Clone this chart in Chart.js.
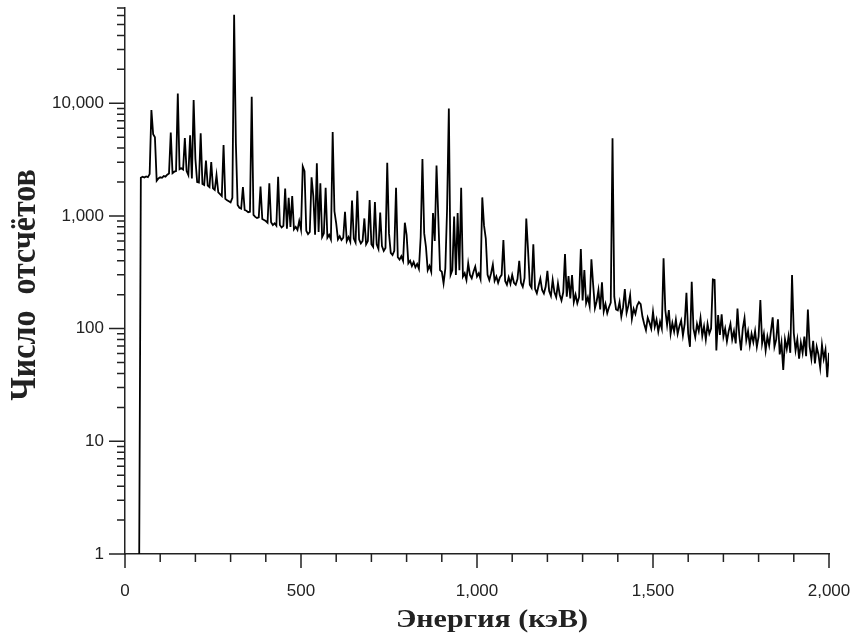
<!DOCTYPE html>
<html>
<head>
<meta charset="utf-8">
<script src="https://cdn.jsdelivr.net/npm/chart.js@4/dist/chart.umd.min.js"></script>
<style>
  html, body { margin: 0; padding: 0; background: #fff; }
  #wrap { width: 854px; height: 639px; position: relative; }
</style>
</head>
<body>
<div id="wrap"><canvas id="spectrum"></canvas></div>
<script>
// channel grid: 5 keV bins starting at 40 keV
var energyStart = 40;
var energyStep = 5;

// counts per bin, one row per 100 keV
var counts = [
    0.5, 2180, 2230, 2190, 2240, 2210, 2350, 8700, 5300, 5000, 2050, 2150,
    2200, 2180, 2260, 2230, 2320, 2380, 5500, 2400, 2470, 2500, 12200, 2600, 2650, 2580, 4900, 2500, 2300, 5200, 2150, 10700,
    3200, 2000, 1980, 5400, 1920, 1880, 3100, 1860, 1800, 3000, 1760, 1700, 2300, 1620, 1560, 1500, 4250, 1420, 1380, 1350,
    1320, 1450, 61000, 4400, 1250, 1180, 1160, 1800, 1130, 1110, 1080, 1090, 11400, 1020, 980, 960, 970, 1820, 940, 920,
    900, 870, 1950, 880, 830, 860, 820, 2230, 830, 790, 815, 1750, 770, 1450, 800, 1500, 760, 800, 750, 900,
    760, 2750, 2500, 740, 690, 720, 2200, 1500, 680, 2930, 720, 1950, 650, 700, 1780, 640, 680, 620, 5560, 1100,
    860, 620, 660, 610, 640, 1090, 600, 650, 590, 1370, 630, 580, 1670, 620, 570, 600, 950, 560, 600, 1384,
    560, 530, 1330, 560, 510, 1070, 540, 490, 520, 2970, 700, 470, 450, 490, 1780, 430, 410, 440, 400, 870,
    680, 380, 400, 360, 390, 350, 375, 340, 650, 3200, 700, 530, 330, 360, 320, 1060, 600, 2800, 985, 330,
    320, 252, 340, 1160, 9000, 300, 330, 990, 300, 1060, 330, 1780, 290, 310, 270, 380, 300, 280, 320, 355,
    290, 310, 275, 1460, 820, 630, 300, 270, 310, 370, 265, 290, 255, 285, 300, 611, 265, 245, 285, 250,
    299, 255, 245, 275, 400, 255, 235, 280, 950, 500, 245, 230, 560, 225, 206, 240, 278, 220, 205, 235,
    326, 215, 195, 270, 210, 190, 252, 200, 178, 210, 458, 192, 292, 185, 299, 172, 200, 168, 190, 508,
    178, 331, 168, 190, 158, 413, 245, 152, 175, 220, 148, 258, 142, 165, 137, 155, 170, 4880, 192, 148,
    145, 172, 128, 155, 224, 138, 160, 198, 122, 150, 135, 160, 172, 165, 128, 110, 97, 125, 113, 100,
    141, 104, 120, 94, 115, 100, 421, 146, 108, 146, 90, 112, 94, 120, 90, 105, 118, 87, 110, 208,
    90, 69, 261, 100, 84, 110, 95, 124, 86, 105, 80, 110, 90, 100, 273, 270, 64, 132, 88, 134,
    85, 100, 77, 95, 110, 80, 95, 74, 151, 88, 64, 100, 124, 79, 95, 71, 90, 76, 95, 69,
    85, 179, 74, 90, 64, 85, 71, 95, 126, 69, 80, 121, 59, 75, 43, 80, 66, 85, 61, 299,
    91, 64, 80, 54, 75, 61, 85, 57, 148, 69, 54, 78, 49, 69, 59, 45, 72, 54, 65, 37,
    61
];

var xMajorTicks = [0, 500, 1000, 1500, 2000];
var xTickLabels = ['0', '500', '1,000', '1,500', '2,000'];
var xMinorStep = 100;
var yMajorTicks = [1, 10, 100, 1000, 10000];
var yTickLabels = ['1', '10', '100', '1,000', '10,000'];
var yMax = 70000;
var xTitle = 'Энергия (кэВ)';
var yTitle = 'Число  отсчётов';

var points = counts.map(function (c, i) {
    return { x: energyStart + energyStep * i, y: c };
});

var xTickValues = [];
for (var e = 0; e <= 2000; e += xMinorStep) xTickValues.push(e);

var yTickValues = [];
for (var d = 1; d <= yMax; d *= 10) {
    for (var m = 1; m <= 9 && d * m <= yMax; m++) yTickValues.push(d * m);
}

// tick marks drawn by hand so major and minor get different lengths
var tickMarks = {
    id: 'tickMarks',
    afterDraw: function (chart) {
        var ctx = chart.ctx, xs = chart.scales.x, ys = chart.scales.y;
        ctx.save();
        ctx.strokeStyle = '#222';
        ctx.lineWidth = 1.5;
        ctx.beginPath();
        xTickValues.forEach(function (v) {
            var px = xs.getPixelForValue(v);
            var len = xMajorTicks.indexOf(v) >= 0 ? 14 : 8;
            ctx.moveTo(px, xs.top);
            ctx.lineTo(px, xs.top + len);
        });
        yTickValues.forEach(function (v) {
            var py = ys.getPixelForValue(v);
            var len = yMajorTicks.indexOf(v) >= 0 ? 16 : 8;
            ctx.moveTo(ys.right, py);
            ctx.lineTo(ys.right - len, py);
        });
        ctx.stroke();
        ctx.restore();
    }
};

// axis titles: wide bold serif, so drawn with a little stretch
var axisTitles = {
    id: 'axisTitles',
    afterDraw: function (chart) {
        var ctx = chart.ctx, area = chart.chartArea;
        ctx.save();
        ctx.fillStyle = '#222';
        ctx.textAlign = 'center';
        ctx.textBaseline = 'alphabetic';

        ctx.save();
        ctx.translate(area.left + (area.right - area.left) / 2 + 15, 627);
        ctx.scale(1.2, 1);
        ctx.font = 'bold 25px "Liberation Serif"';
        ctx.fillText(xTitle, 0, 0);
        ctx.restore();

        ctx.save();
        ctx.translate(35, area.top + (area.bottom - area.top) / 2 + 4);
        ctx.rotate(-Math.PI / 2);
        ctx.scale(1, 1.1);
        ctx.font = 'bold 32px "Liberation Serif"';
        ctx.fillText(yTitle, 0, 0);
        ctx.restore();

        ctx.restore();
    }
};

var tickFont = { family: 'Liberation Sans', size: 17 };

new Chart(document.getElementById('spectrum'), {
    type: 'line',
    data: {
        datasets: [{
            data: points,
            borderColor: '#000',
            borderWidth: 1.8,
            pointRadius: 0,
            tension: 0,
            fill: false
        }]
    },
    options: {
        responsive: true,
        maintainAspectRatio: false,
        animation: false,
        layout: { padding: { top: 8, right: 25, left: 0, bottom: 0 } },
        plugins: { legend: { display: false }, tooltip: { enabled: false } },
        scales: {
            x: {
                type: 'linear',
                min: 0,
                max: 2000,
                afterBuildTicks: function (scale) {
                    scale.ticks = xTickValues.map(function (v) { return { value: v }; });
                },
                afterFit: function (scale) {
                    scale.height = 85;
                    scale.paddingLeft = 0;
                    scale.paddingRight = 0;
                },
                ticks: {
                    autoSkip: false,
                    maxRotation: 0,
                    padding: 13,
                    color: '#222',
                    font: tickFont,
                    callback: function (v) {
                        var i = xMajorTicks.indexOf(v);
                        return i >= 0 ? xTickLabels[i] : '';
                    }
                },
                grid: { drawOnChartArea: false, drawTicks: true, tickLength: 14, tickColor: 'rgba(0,0,0,0)' },
                border: { color: '#222', width: 1.5 }
            },
            y: {
                type: 'logarithmic',
                min: 1,
                max: yMax,
                afterBuildTicks: function (scale) {
                    scale.ticks = yTickValues.map(function (v) { return { value: v }; });
                },
                afterFit: function (scale) {
                    scale.width = 125;
                    scale.paddingTop = 0;
                    scale.paddingBottom = 0;
                },
                ticks: {
                    autoSkip: false,
                    padding: 5,
                    color: '#222',
                    font: tickFont,
                    callback: function (v) {
                        var i = yMajorTicks.indexOf(v);
                        return i >= 0 ? yTickLabels[i] : '';
                    }
                },
                grid: { drawOnChartArea: false, drawTicks: true, tickLength: 16, tickColor: 'rgba(0,0,0,0)' },
                border: { color: '#222', width: 1.5 }
            }
        }
    },
    plugins: [tickMarks, axisTitles]
});
</script>
</body>
</html>
